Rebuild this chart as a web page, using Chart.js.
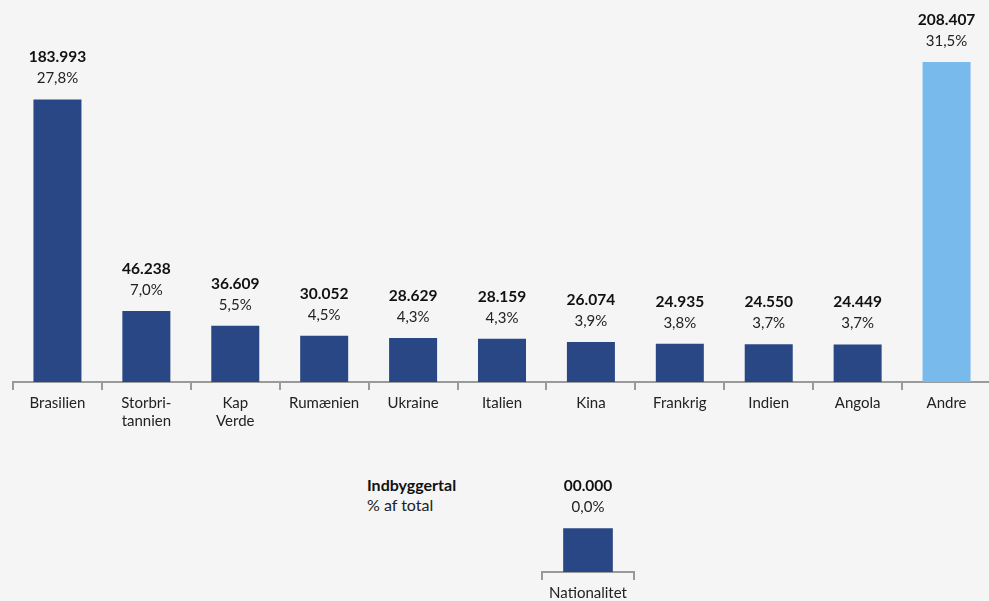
<!DOCTYPE html>
<html>
<head>
<meta charset="utf-8">
<script src="https://cdn.jsdelivr.net/npm/chart.js@4.4.1/dist/chart.umd.min.js"></script>
<style>
  body { margin: 0; background: #f5f5f5; width: 989px; height: 601px; overflow: hidden; position: relative; font-family: Lato, "Noto Sans", sans-serif; }
  #main-wrap { position: absolute; left: 0; top: 0; width: 1000px; height: 440px; }
  #legend-wrap { position: absolute; left: 532px; top: 460px; width: 112px; height: 150px; }
  .key { position: absolute; left: 367px; font-size: 16px; color: #222; }
  .key.bold { font-weight: bold; color: #111; }
</style>
</head>
<body>
<div id="main-wrap"><canvas id="main-chart"></canvas></div>
<div class="key bold" style="top:475px">Indbyggertal</div>
<div class="key" style="top:495px">% af total</div>
<div id="legend-wrap"><canvas id="legend-chart"></canvas></div>
<script>
// Data
const countries = ["Brasilien", ["Storbri-", "tannien"], ["Kap", "Verde"], "Rumænien", "Ukraine", "Italien", "Kina", "Frankrig", "Indien", "Angola", "Andre"];
const population = [183993, 46238, 36609, 30052, 28629, 28159, 26074, 24935, 24550, 24449, 208407];
const shares = ["27,8%", "7,0%", "5,5%", "4,5%", "4,3%", "4,3%", "3,9%", "3,8%", "3,7%", "3,7%", "31,5%"];

// Legend example
const keyCategory = ["Nationalitet"];
const keyValue = [28500];
const keyNumberText = ["00.000"];
const keyShareText = ["0,0%"];

const DARK = "#294785";
const LIGHT = "#79baec";
const AXIS = "#9a9a9a";
const FONT = "Lato, 'Noto Sans', sans-serif";
const Y_MAX = 211000;

function formatNumber(n) {
    return String(n).replace(/\B(?=(\d{3})+(?!\d))/g, ".");
}

// Draws the number + percentage above each bar
const barLabels = {
    id: "barLabels",
    afterDatasetsDraw(chart, args, opts) {
        const ctx = chart.ctx;
        const bars = chart.getDatasetMeta(0).data;
        ctx.save();
        ctx.textAlign = "center";
        ctx.textBaseline = "middle";
        bars.forEach((bar, i) => {
            ctx.fillStyle = "#111";
            ctx.font = "bold 15.5px " + FONT;
            ctx.fillText(opts.top[i], bar.x, bar.y - 42);
            ctx.fillStyle = "#222";
            ctx.font = "15px " + FONT;
            ctx.fillText(opts.bottom[i], bar.x, bar.y - 21);
        });
        ctx.restore();
    }
};

function xAxis(height) {
    return {
        offset: true,
        grid: { display: true, offset: true, drawOnChartArea: false, drawTicks: true, tickLength: 8, color: AXIS, lineWidth: 2 },
        border: { display: true, color: AXIS, width: 2 },
        ticks: { color: "#222", font: { family: FONT, size: 15 }, padding: 4, maxRotation: 0, autoSkip: false },
        afterFit: s => { s.height = height; }
    };
}

new Chart(document.getElementById("main-chart"), {
    type: "bar",
    data: {
        labels: countries,
        datasets: [{
            data: population,
            backgroundColor: population.map((v, i) => i === population.length - 1 ? LIGHT : DARK),
            barPercentage: 0.54,
            categoryPercentage: 1
        }]
    },
    options: {
        responsive: true,
        maintainAspectRatio: false,
        animation: false,
        layout: { padding: { left: 13, right: 9, top: 58, bottom: 0 } },
        scales: {
            x: xAxis(58),
            y: { display: false, min: 0, max: Y_MAX }
        },
        plugins: {
            legend: { display: false },
            tooltip: { enabled: false },
            barLabels: { top: population.map(formatNumber), bottom: shares }
        }
    },
    plugins: [barLabels]
});

// small key chart, same px-per-unit as the main chart (324px plot height)
new Chart(document.getElementById("legend-chart"), {
    type: "bar",
    data: {
        labels: keyCategory,
        datasets: [{ data: keyValue, backgroundColor: DARK, barPercentage: 0.54, categoryPercentage: 1 }]
    },
    options: {
        responsive: true,
        maintainAspectRatio: false,
        animation: false,
        layout: { padding: { left: 10, right: 10, top: 0, bottom: 0 } },
        scales: {
            x: xAxis(38),
            y: { display: false, min: 0, max: Y_MAX * 112 / 324 }
        },
        plugins: {
            legend: { display: false },
            tooltip: { enabled: false },
            barLabels: { top: keyNumberText, bottom: keyShareText }
        }
    },
    plugins: [barLabels]
});
</script>
</body>
</html>
